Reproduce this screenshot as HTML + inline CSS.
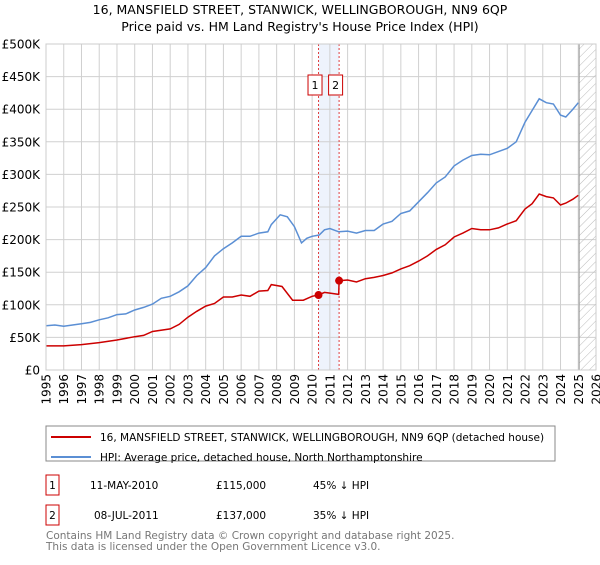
<!DOCTYPE html>
<html><head><meta charset="utf-8"><style>
body{margin:0;background:#fff;font-family:"Liberation Sans","DejaVu Sans",sans-serif;}
svg text{font-family:"DejaVu Sans","Liberation Sans",sans-serif;}
</style></head><body>
<svg id="c" width="600" height="560" xmlns="http://www.w3.org/2000/svg">
<defs><pattern id="hatch" width="6" height="6" patternUnits="userSpaceOnUse" patternTransform="rotate(45)"><line x1="0" y1="0" x2="0" y2="6" stroke="#bbb" stroke-width="1"/></pattern></defs>
<text x="300" y="14" text-anchor="middle" font-size="12.5">16, MANSFIELD STREET, STANWICK, WELLINGBOROUGH, NN9 6QP</text>
<text x="300" y="31" text-anchor="middle" font-size="12.5">Price paid vs. HM Land Registry's House Price Index (HPI)</text>
<g id="grid"></g><g id="series"></g><g id="axes"></g>
<rect x="46" y="426" width="509" height="35" fill="none" stroke="#888"/>
<line x1="51" y1="437" x2="91" y2="437" stroke="#cc0000" stroke-width="2"/>
<text x="100" y="441" font-size="10.5">16, MANSFIELD STREET, STANWICK, WELLINGBOROUGH, NN9 6QP (detached house)</text>
<line x1="51" y1="457" x2="91" y2="457" stroke="#5b8fd4" stroke-width="2"/>
<text x="100" y="461" font-size="10.5">HPI: Average price, detached house, North Northamptonshire</text>
<g font-size="10.5">
<rect x="46" y="475" width="13" height="20" fill="none" stroke="#cc0000"/>
<text x="52.5" y="489" text-anchor="middle">1</text>
<text x="90" y="489">11-MAY-2010</text><text x="216" y="489">£115,000</text><text x="313" y="489">45% ↓ HPI</text>
<rect x="46" y="505" width="13" height="20" fill="none" stroke="#cc0000"/>
<text x="52.5" y="519" text-anchor="middle">2</text>
<text x="94" y="519">08-JUL-2011</text><text x="216" y="519">£137,000</text><text x="313" y="519">35% ↓ HPI</text>
</g>
<text x="46" y="539" font-size="10.5" fill="#777">Contains HM Land Registry data © Crown copyright and database right 2025.</text>
<text x="46" y="550" font-size="10.5" fill="#777">This data is licensed under the Open Government Licence v3.0.</text>
</svg>
<script>
const years=[1995,1996,1997,1998,1999,2000,2001,2002,2003,2004,2005,2006,2007,2008,2009,2010,2011,2012,2013,2014,2015,2016,2017,2018,2019,2020,2021,2022,2023,2024,2025,2026];
const yTicks=[0,50,100,150,200,250,300,350,400,450,500];
const yTickLabels=["£0","£50K","£100K","£150K","£200K","£250K","£300K","£350K","£400K","£450K","£500K"];
const hpiT=[1995,1995.5,1996,1996.5,1997,1997.5,1998,1998.5,1999,1999.5,2000,2000.5,2001,2001.5,2002,2002.5,2003,2003.5,2004,2004.5,2005,2005.5,2006,2006.5,2007,2007.5,2007.7,2008.2,2008.6,2009,2009.4,2009.7,2010,2010.4,2010.7,2011,2011.5,2012,2012.5,2013,2013.5,2014,2014.5,2015,2015.5,2016,2016.5,2017,2017.5,2018,2018.5,2019,2019.5,2020,2020.5,2021,2021.5,2022,2022.4,2022.8,2023.2,2023.6,2024,2024.3,2024.7,2025];
const hpiV=[68,69,67,69,71,73,77,80,85,86,92,96,101,110,113,120,129,145,157,175,186,195,205,205,210,212,223,238,235,220,195,202,205,207,215,217,212,213,210,214,214,224,228,240,244,258,272,287,296,313,322,329,331,330,335,340,350,380,398,416,410,408,391,388,400,410];
const ppT=[1995,1996,1997,1998,1999,2000,2000.5,2001,2002,2002.5,2003,2003.5,2004,2004.5,2005,2005.5,2006,2006.5,2007,2007.5,2007.7,2008.3,2008.9,2009.5,2010,2010.36,2010.7,2011,2011.5,2011.52,2012,2012.5,2013,2013.5,2014,2014.5,2015,2015.5,2016,2016.5,2017,2017.5,2018,2018.5,2019,2019.5,2020,2020.5,2021,2021.5,2022,2022.4,2022.8,2023.2,2023.6,2024,2024.3,2024.7,2025];
const ppV=[37,37,39,42,46,51,53,59,63,70,81,90,98,102,112,112,115,113,121,122,131,128,107,107,113,115,119,118,116,137,138,135,140,142,145,149,155,160,167,175,185,192,204,210,217,215,215,218,224,229,247,255,270,266,264,253,256,262,268];
const sales=[{t:2010.36,v:115,n:"1"},{t:2011.52,v:137,n:"2"}];
const L=46,R=596,T=44,B=370,NS="http://www.w3.org/2000/svg";
const xS=t=>L+(t-1995)/(2026-1995)*(R-L), yS=v=>B-v/500*(B-T);
function mk(tag,a,parent){const e=document.createElementNS(NS,tag);for(const k in a)e.setAttribute(k,a[k]);parent.appendChild(e);return e;}
const grid=document.getElementById('grid'),ser=document.getElementById('series'),ax=document.getElementById('axes');
let sh=mk('rect',{x:xS(2010.36),y:T,width:xS(2011.52)-xS(2010.36),height:B-T,fill:'#eef3fc'},grid);


years.forEach(y=>{const l=mk('line',{x1:xS(y),x2:xS(y),y1:T,y2:B,stroke:'#d0d0d0'},grid);


const tx=mk('text',{x:0,y:0,'font-size':12,'text-anchor':'end',transform:`translate(${xS(y)+4.5},${B+4}) rotate(-90)`},ax);tx.textContent=y;

});
yTicks.forEach((v,i)=>{const l=mk('line',{x1:L,x2:R,y1:yS(v),y2:yS(v),stroke:'#d0d0d0'},grid);


const tx=mk('text',{x:L-6,y:yS(v)+4.5,'font-size':12,'text-anchor':'end'},ax);tx.textContent=yTickLabels[i];

});
let hz=mk('rect',{x:xS(2025.05),y:T,width:R-xS(2025.05),height:B-T,fill:'url(#hatch)',stroke:'#999'},grid);


sales.forEach(s=>{const l=mk('line',{x1:xS(s.t),x2:xS(s.t),y1:T,y2:B,stroke:'#e04040','stroke-dasharray':'2,2'},grid);

});
const pl=(T_,V_)=>T_.map((t,i)=>xS(t).toFixed(1)+','+yS(V_[i]).toFixed(1)).join(' ');
let h=mk('polyline',{points:pl(hpiT,hpiV),fill:'none',stroke:'#5b8fd4','stroke-width':1.5},ser);


let p=mk('polyline',{points:pl(ppT,ppV),fill:'none',stroke:'#cc0000','stroke-width':1.5},ser);


sales.forEach(s=>{const c=mk('circle',{cx:xS(s.t),cy:yS(s.v),r:4,fill:'#cc0000'},ser);


const r=mk('rect',{x:xS(s.t)-10.5,y:75,width:14,height:20,fill:'#fff',stroke:'#cc0000'},ser);


const t=mk('text',{x:xS(s.t)-3.5,y:89,'font-size':11,'text-anchor':'middle'},ser);t.textContent=s.n;

});
mk('rect',{x:L,y:T,width:R-L,height:B-T,fill:'none',stroke:'#ccc'},ax);
</script>
</body></html>
